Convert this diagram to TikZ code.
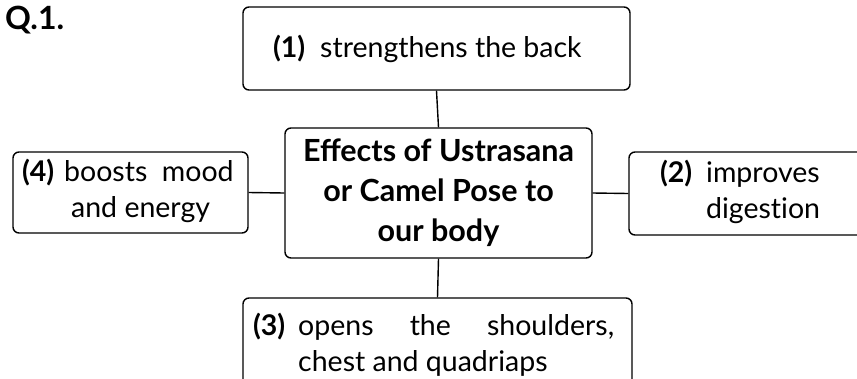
\documentclass[tikz,border=0pt]{standalone}
\usepackage{fontspec}
\setmainfont{Lato}
\newfontfamily\bodyfont{Lato}[Ligatures=NoCommon]
\begin{document}
\begin{tikzpicture}[x=1pt,y=-1pt,
  box/.style={draw=black, line width=1.4pt, rounded corners=6pt, inner sep=0pt, align=center},
  txt/.style={font=\bodyfont\fontsize{28.5}{36}\selectfont},
  ctr/.style={font=\bfseries\fontsize{30.5}{40}\selectfont},
  link/.style={line width=1.4pt}]
\useasboundingbox (0,0) rectangle (857,378);
\clip (0,0) rectangle (857,378);
\node[anchor=base west, font=\bfseries\fontsize{32}{36}\selectfont, inner sep=0pt] (q) at (5,29) {Q.1.};
\node[box, txt, minimum width=387, minimum height=83] (b1) at (436.5,48.5)
  {\makebox[387pt][l]{\hspace{30pt}\textbf{(1)}\hspace{15pt}strengthens the back}};
\node[box, ctr, minimum width=307, minimum height=130] (c) at (438.5,193)
  {\begin{tabular}{@{}c@{}}Effects of Ustrasana\\ or Camel Pose to\\ our body\end{tabular}};
\node[box, txt, minimum width=235, minimum height=81] (b4) at (130.5,192.5)
  {\makebox[235pt][l]{\hspace{9pt}\begin{tabular}{@{}l@{\hspace{10pt}}l@{}}\textbf{(4)} & boosts\ \ mood\\ & \hspace{7pt}and energy\end{tabular}}};
\node[box, txt, minimum width=256, minimum height=83] (b2) at (757,193.5)
  {\makebox[256pt][l]{\hspace{31pt}\begin{tabular}{@{}l@{\hspace{14pt}}l@{}}\textbf{(2)} & improves\\ & digestion\end{tabular}}};
\node[box, txt, minimum width=389, minimum height=97] (b3) at (437.5,346.5)
  {\makebox[389pt][l]{\hspace{10pt}\begin{tabular}{@{}l@{\hspace{13pt}}l@{}}\textbf{(3)} & \makebox[316pt][s]{opens\hfill the\hfill shoulders,}\\ & chest and quadriaps\end{tabular}}};
\draw[link] (b1.south) -- (c.north);
\draw[link] (c.south) -- (b3.north);
\draw[link] (b4.east) -- (c.west);
\draw[link] (c.east) -- (b2.west);
\end{tikzpicture}
\end{document}
